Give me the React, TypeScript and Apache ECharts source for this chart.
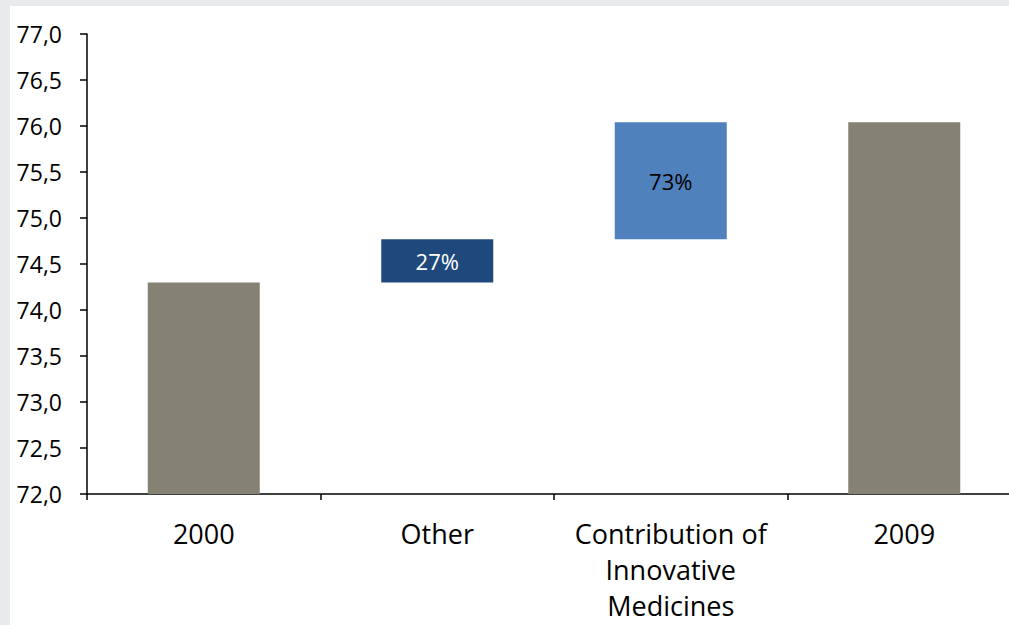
import React, { useEffect, useRef } from "react";
import * as echarts from "echarts";

const categories = ["2000", "Other", "Contribution of\nInnovative\nMedicines", "2009"];
const baseValues = [0, 74.3, 74.77, 0];
const totalValues = [74.3, 0, 0, 76.04];
const otherValues = [0, 0.47, 0, 0];
const innovValues = [0, 0, 1.27, 0];
const barLabels = ["", "27%", "73%", ""];
const yMin = 72;
const yMax = 77;
const yStep = 0.5;

export default function App() {
  const ref = useRef<HTMLDivElement>(null);
  useEffect(() => {
    const chart = echarts.init(ref.current!, null, { renderer: "svg" });
    const font = "'Open Sans', sans-serif";
    const toNull = (arr: number[]) => arr.map((v) => (v === 0 ? null : v));
    chart.setOption({
      animation: false,
      backgroundColor: "#e9eaec",
      graphic: [
        {
          type: "rect",
          z: -10,
          silent: true,
          shape: { x: 10, y: 6, width: 1100, height: 700 },
          style: { fill: "#ffffff" },
        },
      ],
      grid: {
        left: 87,
        top: 34,
        width: 934,
        height: 460,
        containLabel: false,
        outerBoundsMode: "none",
      },
      xAxis: {
        type: "category",
        data: categories,
        axisLine: { lineStyle: { color: "#000", width: 1.5 } },
        axisTick: { show: true, length: 6, lineStyle: { color: "#000", width: 1.5 } },
        axisLabel: {
          interval: 0,
          color: "#000",
          fontFamily: font,
          fontSize: 27,
          lineHeight: 36,
          margin: 21,
        },
      },
      yAxis: {
        type: "value",
        min: yMin,
        max: yMax,
        interval: yStep,
        splitLine: { show: false },
        axisLine: { show: true, lineStyle: { color: "#000", width: 1.5 } },
        axisTick: { show: true, length: 7, lineStyle: { color: "#000", width: 1.5 } },
        axisLabel: {
          color: "#000",
          fontFamily: font,
          fontSize: 23,
          margin: 25,
          formatter: (v: number) => v.toFixed(1).replace(".", ","),
        },
      },
      series: [
        {
          type: "bar",
          stack: "w",
          barWidth: 112,
          data: toNull(baseValues),
          itemStyle: { color: "transparent" },
          silent: true,
        },
        {
          type: "bar",
          stack: "w",
          barWidth: 112,
          data: toNull(totalValues),
          itemStyle: { color: "#858273" },
        },
        {
          type: "bar",
          stack: "w",
          barWidth: 112,
          data: toNull(otherValues),
          itemStyle: { color: "#1f497d" },
          label: {
            show: true,
            position: "inside",
            color: "#ffffff",
            fontFamily: font,
            fontSize: 22,
            formatter: (p: any) => barLabels[p.dataIndex],
          },
        },
        {
          type: "bar",
          stack: "w",
          barWidth: 112,
          data: toNull(innovValues),
          itemStyle: { color: "#4f81bd" },
          label: {
            show: true,
            position: "inside",
            color: "#000000",
            fontFamily: font,
            fontSize: 22,
            formatter: (p: any) => barLabels[p.dataIndex],
          },
        },
      ],
    });
    return () => chart.dispose();
  }, []);
  return (
    <div
      ref={ref}
      style={{ position: "fixed", left: 0, top: 0, width: 1009, height: 625 }}
    />
  );
}
